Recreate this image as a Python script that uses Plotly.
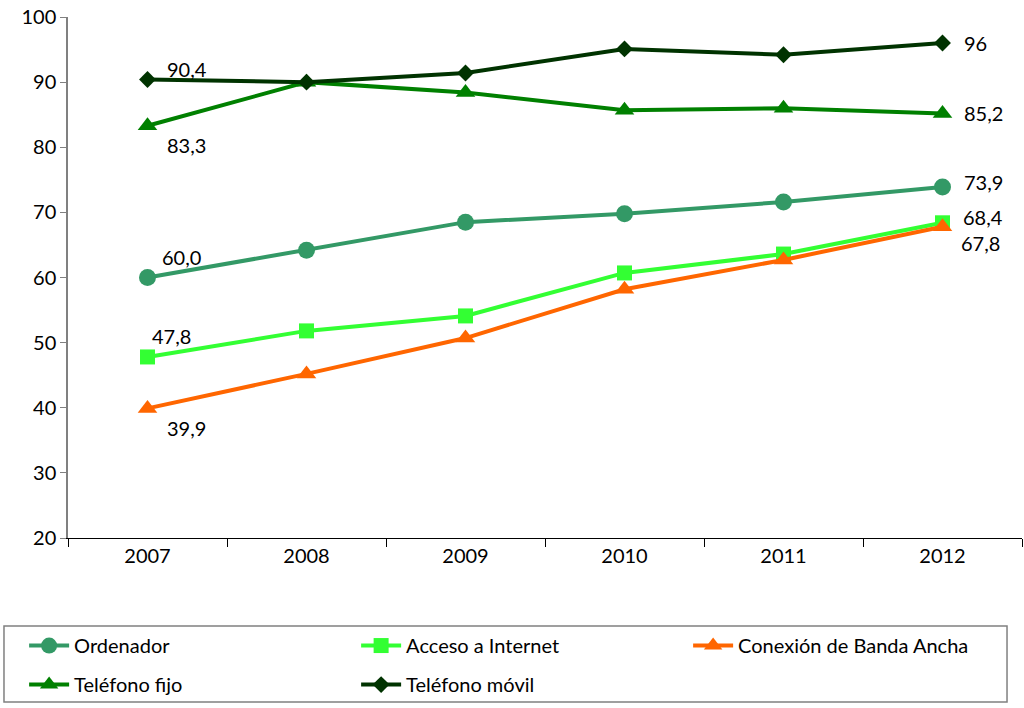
import plotly.graph_objects as go

years = ["2007", "2008", "2009", "2010", "2011", "2012"]
ordenador = [60.0, 64.2, 68.5, 69.8, 71.6, 73.9]
internet = [47.8, 51.8, 54.1, 60.7, 63.6, 68.4]
banda_ancha = [39.9, 45.2, 50.7, 58.2, 62.7, 67.8]
fijo = [83.3, 90.0, 88.4, 85.7, 86.0, 85.2]
movil = [90.4, 90.0, 91.4, 95.1, 94.2, 96.0]

names = ["Ordenador", "Acceso a Internet", "Conexión de Banda Ancha", "Teléfono fijo", "Teléfono móvil"]
series = [ordenador, internet, banda_ancha, fijo, movil]
colors = ["#339966", "#33FF33", "#FF6600", "#008000", "#003300"]
symbols = ["circle", "square", "triangle-up", "triangle-up", "diamond"]
msizes = [17, 15, 17, 17, 13]
legend_ids = ["legend", "legend", "legend", "legend2", "legend2"]

# label offsets (px, right / down) for first and last points
first_off = [(12, -21), (2, -21), (17, 20), (17, 19), (17, -11)]
last_off = [(19, -5), (18, -6), (16, 16), (19, 0), (19, 0)]

FONT = "Lato"
FS = 20
fig = go.Figure()
for n, s, c, sym, ms, lg in zip(names, series, colors, symbols, msizes, legend_ids):
    fig.add_trace(go.Scatter(
        x=years, y=s, name=n, mode="lines+markers",
        line=dict(color=c, width=4),
        marker=dict(symbol=sym, size=ms, color=c),
        legend=lg,
    ))

def fmt(v, integer=False):
    if integer:
        return f"{v:.0f}"
    return f"{v:.1f}".replace(".", ",")

first_idx = 0
last_idx = len(years) - 1
annotations = []
for i, s in enumerate(series):
    dx, dy = first_off[i]
    annotations.append(dict(x=first_idx, y=s[first_idx], xref="x", yref="y", text=fmt(s[first_idx]),
                            showarrow=False, xanchor="left", yanchor="middle",
                            xshift=dx, yshift=-dy,
                            font=dict(family=FONT, size=FS, color="#000000")))
    dx, dy = last_off[i]
    annotations.append(dict(x=last_idx, y=s[last_idx], xref="x", yref="y",
                            text=fmt(s[last_idx], names[i] == "Teléfono móvil"),
                            showarrow=False, xanchor="left", yanchor="middle",
                            xshift=dx, yshift=-dy,
                            font=dict(family=FONT, size=FS, color="#000000")))

legend_common = dict(orientation="h", xanchor="left", yanchor="top",
                     entrywidth=277, entrywidthmode="pixels",
                     font=dict(family=FONT, size=FS), itemwidth=40,
                     bgcolor="rgba(0,0,0,0)", borderwidth=0)

fig.update_layout(
    width=1024, height=708,
    margin=dict(l=68, r=2, t=17, b=170, autoexpand=False),
    paper_bgcolor="white", plot_bgcolor="white",
    font=dict(family=FONT, size=FS, color="#000"),
    showlegend=True,
    annotations=annotations,
    shapes=[dict(type="rect", xref="paper", yref="paper",
                 x0=-0.0671, x1=0.9843, y0=-0.3148, y1=-0.1689,
                 line=dict(color="#808080", width=1.5), fillcolor="rgba(0,0,0,0)")],
    legend=dict(x=-0.046, y=-0.169, **legend_common),
    legend2=dict(x=-0.046, y=-0.244, **legend_common),
    xaxis=dict(type="category", range=[-0.5, 5.5], showline=True, linecolor="#000",
               linewidth=1, ticks="outside", ticklen=8, tickcolor="#000",
               tickson="boundaries", showgrid=False, zeroline=False, automargin=False,
               tickfont=dict(family=FONT, size=FS)),
    yaxis=dict(range=[20, 100], dtick=10, showline=True, linecolor="#808080",
               linewidth=1.5, ticks="outside", ticklen=6, tickcolor="#808080",
               showgrid=False, zeroline=False, ticklabeloverflow="allow", automargin=False,
               tickfont=dict(family=FONT, size=FS)),
)

fig.write_html("out.html", config={"displayModeBar": False},
               post_script="document.body.style.margin='0';document.body.style.overflow='hidden';")
